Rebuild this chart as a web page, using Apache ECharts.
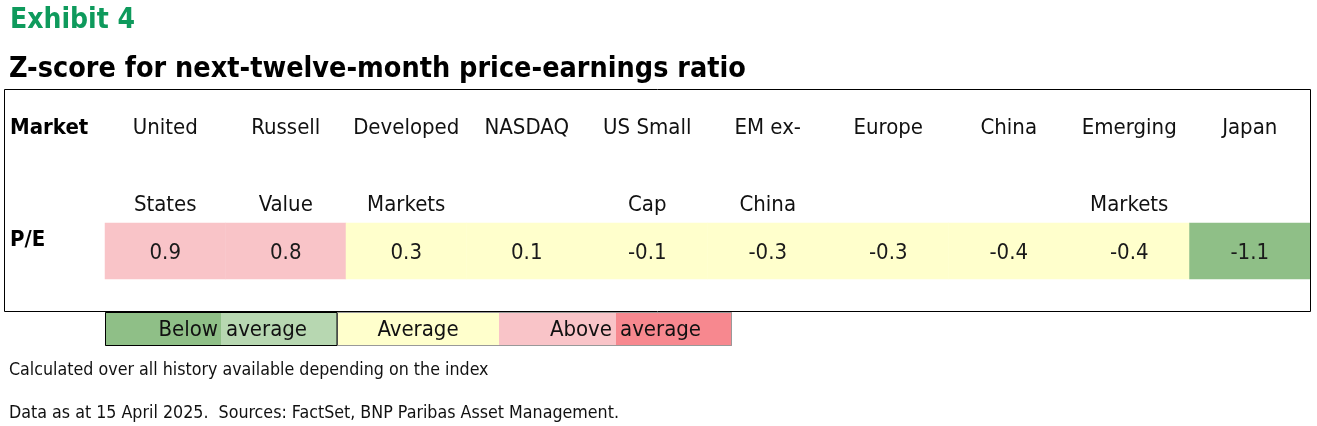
<!DOCTYPE html>
<html>
<head>
<meta charset="utf-8">
<script src="https://cdn.jsdelivr.net/npm/echarts@6/dist/echarts.min.js"></script>
<style>
html,body{margin:0;padding:0;background:#fff;}
#chart{width:1317px;height:426px;}
</style>
</head>
<body>
<div id="chart"></div>
<script>
// ---- data ----
const markets = ['United\nStates', 'Russell\nValue', 'Developed\nMarkets', 'NASDAQ', 'US Small\nCap',
                 'EM ex-\nChina', 'Europe', 'China', 'Emerging\nMarkets', 'Japan'];
const rowLabels = ['P/E'];
const peZScores = [0.9, 0.8, 0.3, 0.1, -0.1, -0.3, -0.3, -0.4, -0.4, -1.1];
const legendLabels = ['Below', 'average', 'Average', 'Above', 'average'];
const titleText = 'Z-score for next-twelve-month price-earnings ratio';
const exhibitText = 'Exhibit 4';
const note1 = 'Calculated over all history available depending on the index';
const note2 = 'Data as at 15 April 2025.  Sources: FactSet, BNP Paribas Asset Management.';

// ---- styles ----
const FONT = '"DejaVu Sans Condensed", "Liberation Sans Narrow", sans-serif';
const C_DARK_GREEN = '#8FBF87', C_LIGHT_GREEN = '#B7D7B1', C_YELLOW = '#FFFFCC',
      C_LIGHT_PINK = '#F9C4C8', C_DARK_PINK = '#F7888F';

const heatData = peZScores.map((v, i) => [i, 0, v]);

const chart = echarts.init(document.getElementById('chart'), null, {renderer: 'canvas'});
chart.setOption({
  backgroundColor: '#fff',
  animation: false,
  textStyle: {fontFamily: FONT},
  grid: {left: 105, right: 7, top: 223, height: 56},
  xAxis: {
    type: 'category', position: 'top', data: markets,
    axisLine: {show: false}, axisTick: {show: false}, splitLine: {show: false},
    axisLabel: {
      interval: 0, fontFamily: FONT, fontSize: 22, color: '#111', lineHeight: 77, margin: -21,
      formatter: v => v.indexOf('\n') >= 0 ? v : v + '\n '
    }
  },
  yAxis: {
    type: 'category', data: rowLabels,
    axisLine: {show: false}, axisTick: {show: false}, splitLine: {show: false},
    axisLabel: {fontFamily: FONT, fontSize: 22, fontWeight: 'bold', color: '#000',
                align: 'left', verticalAlign: 'bottom', margin: 95}
  },
  visualMap: {
    type: 'piecewise', show: false, dimension: 2,
    pieces: [
      {min: 1, color: C_DARK_PINK},
      {min: 0.5, max: 1, color: C_LIGHT_PINK},
      {min: -0.5, max: 0.5, color: C_YELLOW},
      {min: -1, max: -0.5, color: C_LIGHT_GREEN},
      {max: -1, color: C_DARK_GREEN}
    ]
  },
  series: [{
    type: 'heatmap', data: heatData,
    label: {show: true, fontFamily: FONT, fontSize: 22, color: '#1a1a1a', offset: [0, 2],
            formatter: p => p.value[2].toFixed(1)},
    itemStyle: {borderWidth: 0},
    emphasis: {disabled: true}
  }],
  graphic: [
    {type: 'text', left: 10, top: 7, style: {text: exhibitText, font: 'bold 28px ' + FONT, fill: '#0E9A5C'}},
    {type: 'text', left: 9, top: 55, style: {text: titleText, font: 'bold 28.5px ' + FONT, fill: '#000'}},
    {type: 'rect', shape: {x: 4.5, y: 89.5, width: 1306, height: 222}, style: {fill: 'none', stroke: '#000', lineWidth: 1}, z: 10},
    {type: 'text', left: 10, top: 117, style: {text: 'Market', font: 'bold 22px ' + FONT, fill: '#000'}},
    // legend
    {type: 'rect', shape: {x: 105, y: 312, width: 116, height: 34}, style: {fill: C_DARK_GREEN}},
    {type: 'rect', shape: {x: 221, y: 312, width: 116, height: 34}, style: {fill: C_LIGHT_GREEN}},
    {type: 'rect', shape: {x: 337, y: 312, width: 162, height: 34}, style: {fill: C_YELLOW}},
    {type: 'rect', shape: {x: 499, y: 312, width: 117, height: 34}, style: {fill: C_LIGHT_PINK}},
    {type: 'rect', shape: {x: 616, y: 312, width: 116, height: 34}, style: {fill: C_DARK_PINK}},
    {type: 'rect', shape: {x: 337.5, y: 312.5, width: 394, height: 33}, style: {fill: 'none', stroke: '#999', lineWidth: 1}},
    {type: 'rect', shape: {x: 105.5, y: 312.5, width: 231.5, height: 33}, style: {fill: 'none', stroke: '#000', lineWidth: 1}},
    {type: 'text', x: 218, y: 330, style: {text: legendLabels[0], font: '22px ' + FONT, fill: '#111', align: 'right', verticalAlign: 'middle'}},
    {type: 'text', x: 226, y: 330, style: {text: legendLabels[1], font: '22px ' + FONT, fill: '#111', align: 'left', verticalAlign: 'middle'}},
    {type: 'text', x: 418, y: 330, style: {text: legendLabels[2], font: '22px ' + FONT, fill: '#111', align: 'center', verticalAlign: 'middle'}},
    {type: 'text', x: 612, y: 330, style: {text: legendLabels[3], font: '22px ' + FONT, fill: '#111', align: 'right', verticalAlign: 'middle'}},
    {type: 'text', x: 620, y: 330, style: {text: legendLabels[4], font: '22px ' + FONT, fill: '#111', align: 'left', verticalAlign: 'middle'}},
    // notes
    {type: 'text', x: 9, y: 370, style: {text: note1, font: '17.7px ' + FONT, fill: '#111', verticalAlign: 'middle'}},
    {type: 'text', x: 9, y: 413, style: {text: note2, font: '17.7px ' + FONT, fill: '#111', verticalAlign: 'middle'}}
  ]
});
</script>
</body>
</html>
